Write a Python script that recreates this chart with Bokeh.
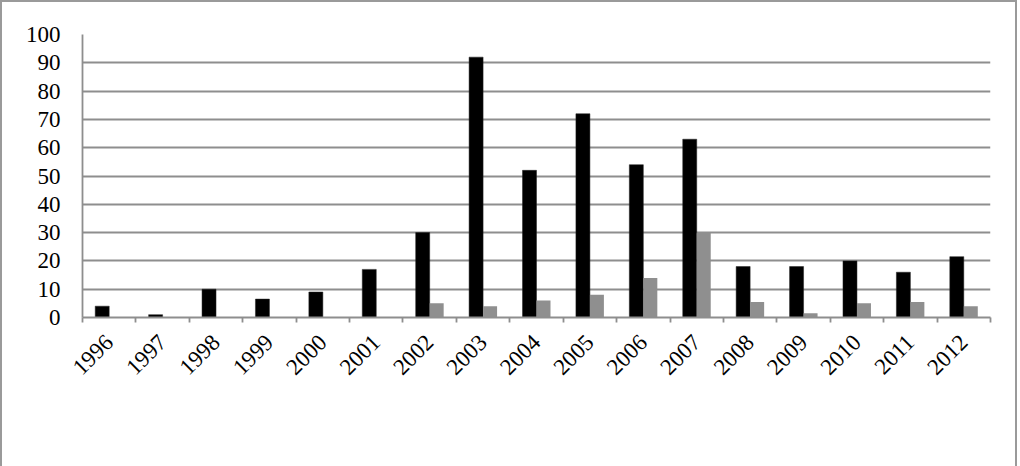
import math
import numpy as np
from bokeh.plotting import figure
from bokeh.models import (Range1d, LinearAxis, FixedTicker, Legend, LegendItem, ColumnDataSource)
from bokeh.embed import file_html
from bokeh.resources import INLINE

years = [str(y) for y in range(1996, 2013)]
viepublique = [4, 1, 10, 6.5, 9, 17, 30, 92, 52, 72, 54, 63, 18, 18, 20, 16, 21.5]
veronis = [0, 0, 0, 0, 0, 0, 5, 4, 6, 8, 14, 30, 5.5, 1.5, 5, 5.5, 4]
y_ticks = list(range(0, 101, 10))
series_names = ["Viepublique.fr", "Jean Véronis"]

FONT = "Liberation Serif"
GRID = "#8e8e8e"

n = len(years)
centers = np.arange(n) + 0.5
bw = 0.262
src = ColumnDataSource(dict(x1=centers - bw / 2, x2=centers + bw / 2, vp=viepublique, jv=veronis))

p = figure(x_range=Range1d(0, n), y_range=Range1d(0, 100),
           frame_width=908, frame_height=283, output_backend="svg", toolbar_location=None,
           x_axis_location=None,
           min_border_left=80, min_border_right=25, min_border_top=32, min_border_bottom=20)
p.styles = {"border-top": "2px solid #9a9a9a", "border-left": "2px solid #9a9a9a",
            "border-right": "2px solid #9a9a9a"}
p.outline_line_color = None

r1 = p.vbar(x="x1", top="vp", width=bw, source=src,
            fill_color="black", line_color="#222222", line_width=0.5)
r2 = p.vbar(x="x2", top="jv", width=bw, source=src,
            fill_color="#8f8f8f", line_color=None)

# y axis
ya = p.yaxis[0]
ya.ticker = FixedTicker(ticks=y_ticks)
ya.axis_line_color = GRID
ya.axis_line_width = 1.8
ya.major_tick_line_color = None
ya.minor_tick_line_color = None
ya.major_tick_out = 0
ya.major_tick_in = 0
ya.major_label_standoff = 22
ya.major_label_text_font = FONT
ya.major_label_text_font_size = "23px"
ya.major_label_text_color = "black"

p.ygrid.ticker = FixedTicker(ticks=y_ticks)
p.ygrid.grid_line_color = GRID
p.ygrid.grid_line_width = 1.8
p.xgrid.visible = False

# category axis: labels at category centres, tick marks at category boundaries
xa = LinearAxis(ticker=FixedTicker(ticks=list(centers), minor_ticks=list(range(n + 1))),
                major_label_overrides={float(c): y for c, y in zip(centers, years)})
xa.axis_line_color = GRID
xa.axis_line_width = 1.8
xa.major_tick_line_color = None
xa.major_tick_out = 0
xa.major_tick_in = 0
xa.minor_tick_line_color = GRID
xa.minor_tick_line_width = 1.8
xa.minor_tick_out = 5
xa.minor_tick_in = 0
xa.major_label_orientation = math.pi / 4
xa.major_label_standoff = 16
xa.major_label_text_font = FONT
xa.major_label_text_font_size = "23px"
xa.major_label_text_color = "black"
p.add_layout(xa, "below")

legend = Legend(items=[LegendItem(label=series_names[0], renderers=[r1]),
                       LegendItem(label=series_names[1], renderers=[r2])],
                orientation="horizontal", location="center",
                label_text_font=FONT, label_text_font_size="23px",
                glyph_width=12, glyph_height=12, label_standoff=5, spacing=29,
                border_line_color=None, background_fill_alpha=0, margin=0, padding=0)
p.add_layout(legend, "below")

open("out.html", "w").write(file_html(p, INLINE))
